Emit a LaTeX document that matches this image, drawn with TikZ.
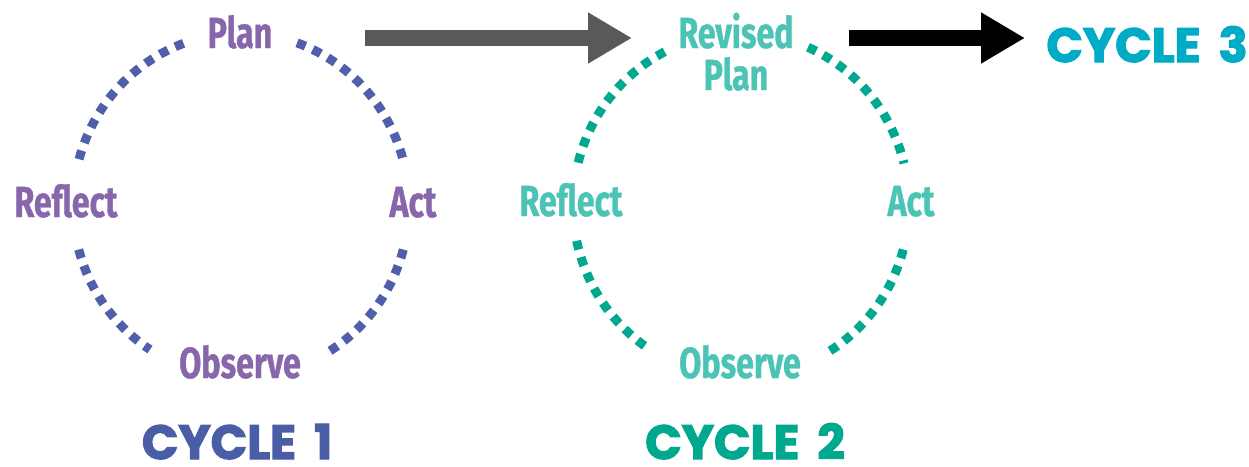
\documentclass[tikz,border=0pt]{standalone}
\usepackage{fontspec}
\usetikzlibrary{arrows.meta}
\newfontfamily\labfont[FakeStretch=0.74,FakeBold=0.8]{Fira Sans}
\newfontfamily\cycfont[FakeBold=2.6]{Poppins}
\definecolor{purp}{HTML}{8766AC}
\definecolor{dotblue}{HTML}{4F5FAA}
\definecolor{cyc1}{HTML}{4A5EA8}
\definecolor{tealtxt}{HTML}{4CC4B5}
\definecolor{tealdot}{HTML}{00A88F}
\definecolor{cyc2}{HTML}{00A88E}
\definecolor{cyc3}{HTML}{00ABC6}
\definecolor{arrgrey}{HTML}{58595B}
\begin{document}
\begin{tikzpicture}[x=1pt,y=-1pt,
  lab/.style={inner sep=0pt,anchor=base,font=\labfont\bfseries\fontsize{43.5}{42}\selectfont},
  cyc/.style={inner sep=0pt,anchor=base,text depth=0pt,font=\cycfont\bfseries\fontsize{48}{48}\selectfont},
  dots/.style={line width=9pt,dash pattern=on 9pt off 8pt},
  bigarrow/.style={line width=16pt,-{Triangle[length=44pt,width=48pt]}}]
\useasboundingbox (0,0) rectangle (1249,466);
% cycle 1
\node[lab,text=purp] (plan1) at (240,48) {Plan};
\node[lab,text=purp] (reflect1) at (66,217) {Reflect};
\node[lab,text=purp] (act1) at (413,217) {Act};
\node[lab,text=purp] (observe1) at (240,378) {Observe};
\node[cyc,text=cyc1] (cycle1) at (237,459) {CYCLE\hspace{18pt}1};
\begin{scope}[dots,draw=dotblue]
\draw (241,205) ++(-110:168 and 172) arc[start angle=-110,end angle=-165,x radius=168,y radius=172];
\draw (241,205) ++(-70.5:168 and 172) arc[start angle=-70.5,end angle=-15,x radius=168,y radius=172];
\draw (241,205) ++(15:168 and 172) arc[start angle=15,end angle=60,x radius=168,y radius=172];
\draw (241,205) ++(165:168 and 172) arc[start angle=165,end angle=122.8,x radius=168,y radius=172];
\end{scope}
% cycle 2
\node[lab,text=tealtxt,align=center] (plan2) at (736,90) {Revised\\Plan};
\node[lab,text=tealtxt] (reflect2) at (571,216) {Reflect};
\node[lab,text=tealtxt] (act2) at (911,216) {Act};
\node[lab,text=tealtxt] (observe2) at (740,378) {Observe};
\node[cyc,text=cyc2] (cycle2) at (745,459) {CYCLE\hspace{18pt}2};
\begin{scope}[dots,draw=tealdot]
\draw (741,205) ++(-117:168 and 172) arc[start angle=-117,end angle=-166,x radius=168,y radius=172];
\draw (741,205) ++(-66.5:168 and 172) arc[start angle=-66.5,end angle=-14,x radius=168,y radius=172];
\draw (741,205) ++(15:168 and 172) arc[start angle=15,end angle=60,x radius=168,y radius=172];
\draw (741,205) ++(168:168 and 172) arc[start angle=168,end angle=122.8,x radius=168,y radius=172];
\end{scope}
% cycle 3
\node[cyc,text=cyc3] (cycle3) at (1147,62) {CYCLE\hspace{18pt}3};
% arrows
\coordinate (a1s) at (365,38);
\coordinate (a1e) at (632,38);
\coordinate (a2s) at (849,38);
\coordinate (a2e) at (1025,38);
\draw[bigarrow,draw=arrgrey,fill=arrgrey] (a1s) -- (a1e);
\draw[bigarrow,draw=black,fill=black] (a2s) -- (a2e);
\end{tikzpicture}
\end{document}
